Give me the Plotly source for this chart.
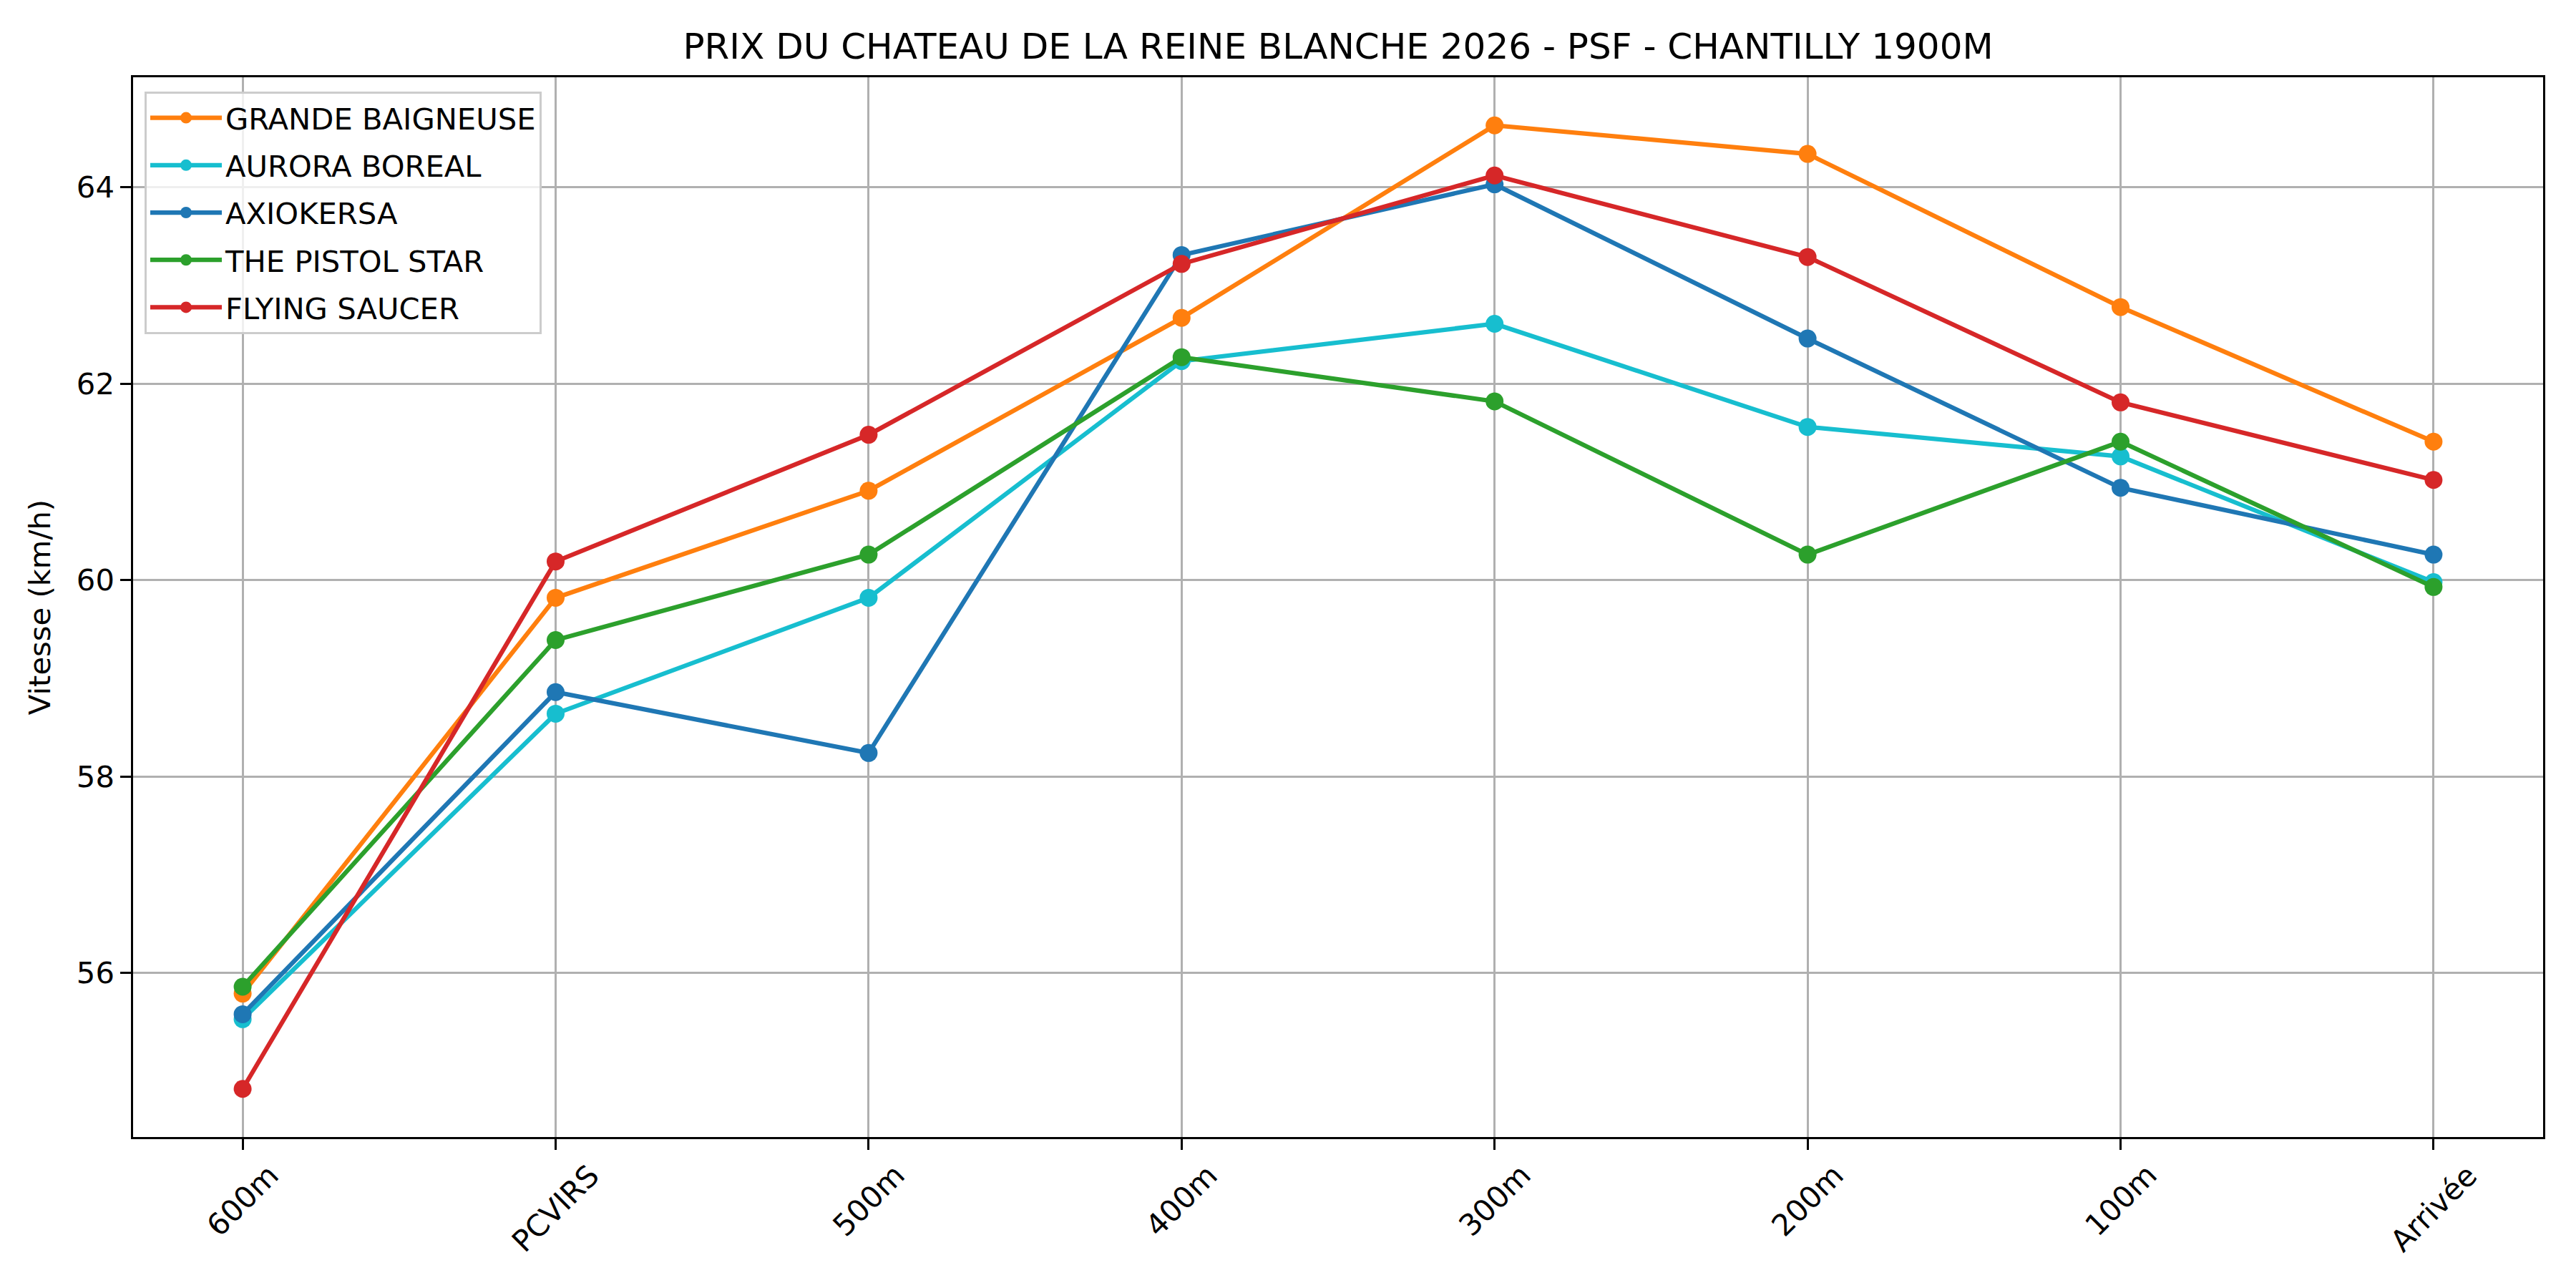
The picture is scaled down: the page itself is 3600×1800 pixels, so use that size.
import plotly.graph_objects as go

categories = ["600m", "PCVIRS", "500m", "400m", "300m", "200m", "100m", "Arrivée"]

grande_baigneuse = [55.79, 59.82, 60.91, 62.67, 64.63, 64.34, 62.78, 61.41]
aurora_boreal = [55.53, 58.64, 59.82, 62.23, 62.61, 61.56, 61.26, 59.98]
axiokersa = [55.58, 58.86, 58.24, 63.31, 64.03, 62.46, 60.94, 60.26]
the_pistol_star = [55.86, 59.39, 60.26, 62.27, 61.82, 60.26, 61.41, 59.93]
flying_saucer = [54.82, 60.19, 61.48, 63.22, 64.12, 63.29, 61.81, 61.02]

series_names = ["GRANDE BAIGNEUSE", "AURORA BOREAL", "AXIOKERSA", "THE PISTOL STAR", "FLYING SAUCER"]
series_values = [grande_baigneuse, aurora_boreal, axiokersa, the_pistol_star, flying_saucer]
series_colors = ["#ff7f0e", "#17becf", "#1f77b4", "#2ca02c", "#d62728"]

y_ticks = [56, 58, 60, 62, 64]

title_text = "PRIX DU CHATEAU DE LA REINE BLANCHE 2026 - PSF - CHANTILLY 1900M"
y_title = "Vitesse (km/h)"

FONT = "DejaVu Sans"
W, H = 3600, 1800
OFF = 8  # page body margin
ML, MR, MT, MB = 186 - OFF, 46 + OFF, 108 - OFF, 211 + OFF

fig = go.Figure()
x_idx = list(range(len(categories)))
for name, vals, col in zip(series_names, series_values, series_colors):
    fig.add_trace(go.Scatter(
        x=x_idx, y=vals, name=name, mode="lines+markers", legendgroup=name,
        line=dict(color=col, width=6.25),
        marker=dict(color=col, size=25, line=dict(width=0)),
    ))

# rotated category labels, centred under ticks like matplotlib
for i, c in enumerate(categories):
    fig.add_annotation(
        x=i, y=0, xref="x", yref="paper", text=c, showarrow=False,
        textangle=-45, xanchor="center", yanchor="top", yshift=-26,
        font=dict(family=FONT, size=41.7, color="black"),
    )

pw = W - ML - MR
ph = H - MT - MB
fig.update_layout(
    width=W, height=H,
    margin=dict(l=ML, r=MR, t=MT, b=MB, pad=0),
    paper_bgcolor="white", plot_bgcolor="white",
    font=dict(family=FONT, size=41.7, color="black"),
    title=dict(text=title_text, x=(ML + (W - MR)) / 2 / W, xanchor="center",
               y=1 - (64 - OFF) / H, yanchor="middle", yref="container",
               font=dict(family=FONT, size=50, color="black")),
    showlegend=True,
    legend=dict(
        x=(206 - 4 - OFF - ML) / pw, y=1 - (130 - OFF - 2 - MT) / ph,
        xanchor="left", yanchor="top",
        bgcolor="rgba(255,255,255,0.8)", bordercolor="#cccccc", borderwidth=3,
        font=dict(family=FONT, size=41.7, color="black"),
        tracegroupgap=9, itemwidth=100,
    ),
)

fig.update_xaxes(
    range=[-0.35, len(categories) - 1 + 0.35],
    tickmode="array", tickvals=x_idx, ticktext=categories, showticklabels=False,
    showgrid=True, gridcolor="#b0b0b0", gridwidth=3.3,
    showline=True, linecolor="black", linewidth=3.3, mirror=True,
    ticks="outside", ticklen=14.6, tickwidth=3.3, tickcolor="black",
    zeroline=False,
)
fig.update_yaxes(
    range=[54.33, 65.12],
    tickmode="array", tickvals=y_ticks, ticktext=[str(v) for v in y_ticks],
    showgrid=True, gridcolor="#b0b0b0", gridwidth=3.3,
    showline=True, linecolor="black", linewidth=3.3, mirror=True,
    ticks="outside", ticklen=14.6, tickwidth=3.3, tickcolor="black",
    tickfont=dict(family=FONT, size=41.7, color="black"),
    zeroline=False,
    title=dict(text=y_title, standoff=24, font=dict(family=FONT, size=41.7, color="black")),
)

fig.write_html("out.html")
